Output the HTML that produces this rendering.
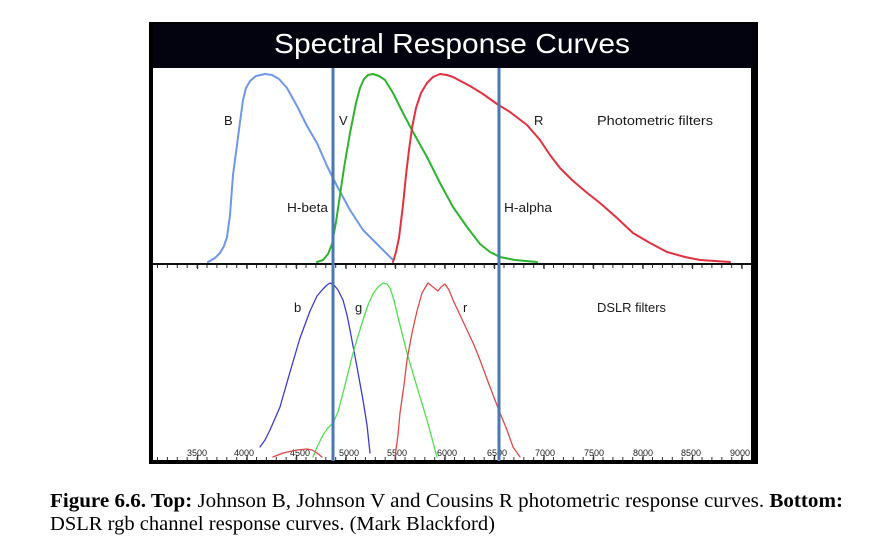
<!DOCTYPE html>
<html>
<head>
<meta charset="utf-8">
<style>
  html,body{margin:0;padding:0;background:#fff;}
  svg{display:block;}
</style>
</head>
<body>
<svg width="876" height="552" viewBox="0 0 876 552" xmlns="http://www.w3.org/2000/svg">
  <rect x="0" y="0" width="876" height="552" fill="#ffffff"/>
  <!-- frame -->
  <rect x="149" y="22" width="609" height="442" fill="#000000"/>
  <rect x="153" y="24" width="600" height="44" fill="#03030f"/>
  <rect x="153" y="68" width="598" height="392" fill="#ffffff"/>
  <!-- title -->
  <text x="452" y="53" fill="#ffffff" font-family="Liberation Sans, sans-serif" font-size="28" text-anchor="middle" textLength="356" lengthAdjust="spacingAndGlyphs">Spectral Response Curves</text>

  <!-- top divider axis -->
  <rect x="153" y="263" width="598" height="2" fill="#111"/>
  <line x1="153" y1="266.5" x2="751" y2="266.5" stroke="#333" stroke-width="3" stroke-dasharray="1 8.9" stroke-dashoffset="-4"/>
  <line x1="153" y1="267" x2="751" y2="267" stroke="#333" stroke-width="4" stroke-dasharray="1.2 48.3" stroke-dashoffset="-44"/>

  <!-- bottom axis -->
  <rect x="153" y="460" width="598" height="4" fill="#000"/>
  <line x1="153" y1="458.5" x2="751" y2="458.5" stroke="#333" stroke-width="3" stroke-dasharray="1 8.9" stroke-dashoffset="-4"/>
  <line x1="153" y1="457.5" x2="751" y2="457.5" stroke="#333" stroke-width="5" stroke-dasharray="1.2 48.3" stroke-dashoffset="-44"/>

  <!-- tick labels -->
  <g font-family="Liberation Sans, sans-serif" font-size="9" fill="#222" text-anchor="middle">
    <text x="197" y="456">3500</text>
    <text x="244" y="456">4000</text>
    <text x="300" y="456">4500</text>
    <text x="349" y="456">5000</text>
    <text x="397" y="456">5500</text>
    <text x="447" y="456">6000</text>
    <text x="497" y="456">6500</text>
    <text x="545" y="456">7000</text>
    <text x="594" y="456">7500</text>
    <text x="643" y="456">8000</text>
    <text x="691" y="456">8500</text>
    <text x="740" y="456">9000</text>
  </g>

  <!-- top curves -->
  <g fill="none" stroke-width="2" stroke-linejoin="round" stroke-linecap="round">
    <polyline stroke="#6f97e8" points="208,262 215,258 220,253 224,246 227,237 230,215 233,175 237,145 240,122 243,100 246,88 250,81 256,76 265,74 272,75 279,79 287,88 297,106 307,126 317,143 327,166 337,186 350,210 363,230 372,239 380,247 393,260"/>
    <polyline stroke="#2eb32e" points="317,262 323,260 328,254 332,244 336,222 340,195 344,168 350,133 356,103 360,88 364,79 368,75 373,74 379,76 385,80 393,93 403,113 413,132 427,157 440,183 453,207 467,227 480,244 490,252 500,257 515,260 537,262"/>
    <polyline stroke="#e0323e" points="393,262 396,252 399,238 403,205 406,175 409,150 412,128 416,108 421,93 427,83 433,77 440,74 447,75 453,77 470,86 483,94 497,104 510,112 527,125 540,140 550,155 560,168 572,180 586,192 600,203 617,218 633,233 650,243 667,252 685,257 700,260 730,262"/>
  </g>

  <!-- bottom curves -->
  <g fill="none" stroke-width="1.3" stroke-linejoin="round" stroke-linecap="round">
    <polyline stroke="#3c3cd2" points="260,447 265,440 270,430 280,407 290,372 300,338 310,311 317,296 323,289 327,285 330,283 334,285 338,290 343,300 347,315 350,330 357,367 363,400 367,425 370,453"/>
    <polyline stroke="#4ee04e" points="313,457 318,445 323,435 328,428 333,423 338,412 343,393 348,373 353,353 358,336 363,320 368,305 373,294 378,287 383,283 387,284 390,288 394,300 397,313 407,353 417,387 427,420 437,457"/>
    <polyline stroke="#e04848" points="395,457 398,435 400,413 404,385 407,360 412,333 417,311 422,293 428,283 433,287 438,291 441,287 445,284 449,290 453,300 460,315 467,330 474,345 480,360 490,387 500,413 507,430 513,447 520,457"/>
    <polyline stroke="#e04848" points="273,457 283,453 297,450 307,449 312,450 317,453 322,457"/>
  </g>

  <!-- H-beta / H-alpha lines -->
  <line x1="333" y1="68" x2="333" y2="461" stroke="#4a78b4" stroke-width="3"/>
  <line x1="499" y1="68" x2="499" y2="461" stroke="#4a78b4" stroke-width="3"/>

  <!-- chart labels -->
  <g font-family="Liberation Sans, sans-serif" font-size="13" fill="#1a1a1a">
    <text x="224" y="125">B</text>
    <text x="339" y="125">V</text>
    <text x="534" y="125">R</text>
    <text x="597" y="125" textLength="116" lengthAdjust="spacingAndGlyphs">Photometric filters</text>
    <text x="287" y="212" textLength="41" lengthAdjust="spacingAndGlyphs">H-beta</text>
    <text x="504" y="212" textLength="48" lengthAdjust="spacingAndGlyphs">H-alpha</text>
    <text x="294" y="312">b</text>
    <text x="355" y="312">g</text>
    <text x="463" y="312">r</text>
    <text x="597" y="312" textLength="69" lengthAdjust="spacingAndGlyphs">DSLR filters</text>
  </g>

  <!-- caption -->
  <g font-family="Liberation Serif, serif" font-size="20" fill="#000">
    <text x="50" y="507" textLength="793" lengthAdjust="spacingAndGlyphs"><tspan font-weight="bold">Figure 6.6. Top:</tspan> Johnson B, Johnson V and Cousins R photometric response curves. <tspan font-weight="bold">Bottom:</tspan></text>
    <text x="50" y="530" textLength="445" lengthAdjust="spacingAndGlyphs">DSLR rgb channel response curves. (Mark Blackford)</text>
  </g>
</svg>
</body>
</html>
